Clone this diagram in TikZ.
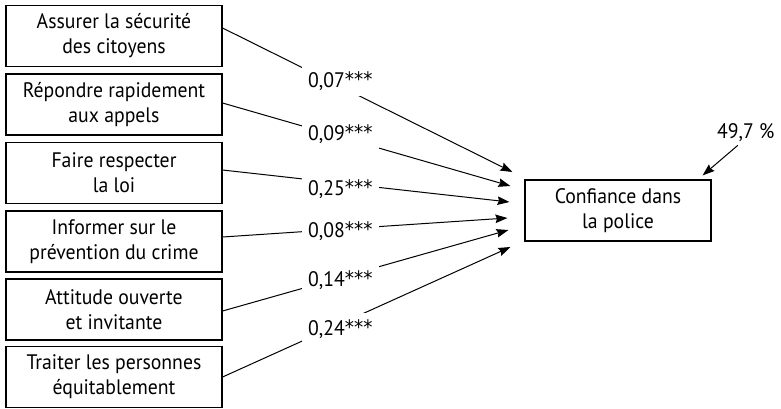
\documentclass[tikz,border=0pt]{standalone}
\usepackage{fontspec}
\setmainfont[FakeStretch=0.94]{PT Sans}
\newfontfamily\astfont[FakeStretch=0.92]{DejaVu Sans}
\newcommand{\stars}{{\astfont\fontsize{20}{20}\selectfont\raisebox{1pt}{***}}}
\usetikzlibrary{arrows.meta,calc}
\begin{document}
\begin{tikzpicture}[x=1pt,y=-1pt,
  every node/.style={font=\fontsize{21}{25}\selectfont},
  src/.style={draw, line width=1.1pt, minimum width=216pt, minimum height=61pt, align=center, inner sep=0pt},
  tgt/.style={draw, line width=1.1pt, minimum width=186pt, minimum height=61pt, align=center, inner sep=0pt},
  coef/.style={fill=white, inner sep=6pt, anchor=base west},
  path/.style={line width=1pt, -{Stealth[length=12pt,width=8.5pt,inset=1.5pt]}}]
\useasboundingbox (0,0) rectangle (781,408);
\node[src] (b1) at (114,36)    {Assurer la sécurité\\des citoyens};
\node[src] (b2) at (114,104.5) {Répondre rapidement\\aux appels};
\node[src] (b3) at (114,173)   {Faire respecter\\la loi};
\node[src] (b4) at (114,241.5) {Informer sur le\\prévention du crime};
\node[src] (b5) at (114,309.5) {Attitude ouverte\\et invitante};
\node[src] (b6) at (114,377)   {Traiter les personnes\\équitablement};
\node[tgt] (t) at (618,210.5) {Confiance dans\\la police};
\draw[path] ([yshift=8pt]b1.east)   -- ([xshift=-12pt,yshift=38.5pt]t.west);
\draw[path] ([yshift=1.5pt]b2.east) -- ([xshift=-14pt,yshift=24.5pt]t.west);
\draw[path] ([yshift=3pt]b3.east)   -- ([xshift=-15pt,yshift=8.5pt]t.west);
\draw[path] ([yshift=4.5pt]b4.east) -- ([xshift=-17pt,yshift=-7.5pt]t.west);
\draw[path] ([yshift=-1.5pt]b5.east)-- ([xshift=-16pt,yshift=-19.5pt]t.west);
\draw[path] (b6.east)               -- ([xshift=-14pt,yshift=-36.5pt]t.west);
\node[coef] (c1) at (302,87)  {0,07\stars};
\node[coef] (c2) at (302,140) {0,09\stars};
\node[coef] (c3) at (302,195) {0,25\stars};
\node[coef] (c4) at (302,237) {0,08\stars};
\node[coef] (c5) at (302,286) {0,14\stars};
\node[coef] (c6) at (302,335) {0,24\stars};
\node[anchor=base west, inner sep=0pt] (p) at (717,138) {49,7 \%};
\draw[path] ([xshift=-8pt,yshift=-4pt]p.south) -- ([xshift=-9pt,yshift=4pt]t.north east);
\end{tikzpicture}
\end{document}
